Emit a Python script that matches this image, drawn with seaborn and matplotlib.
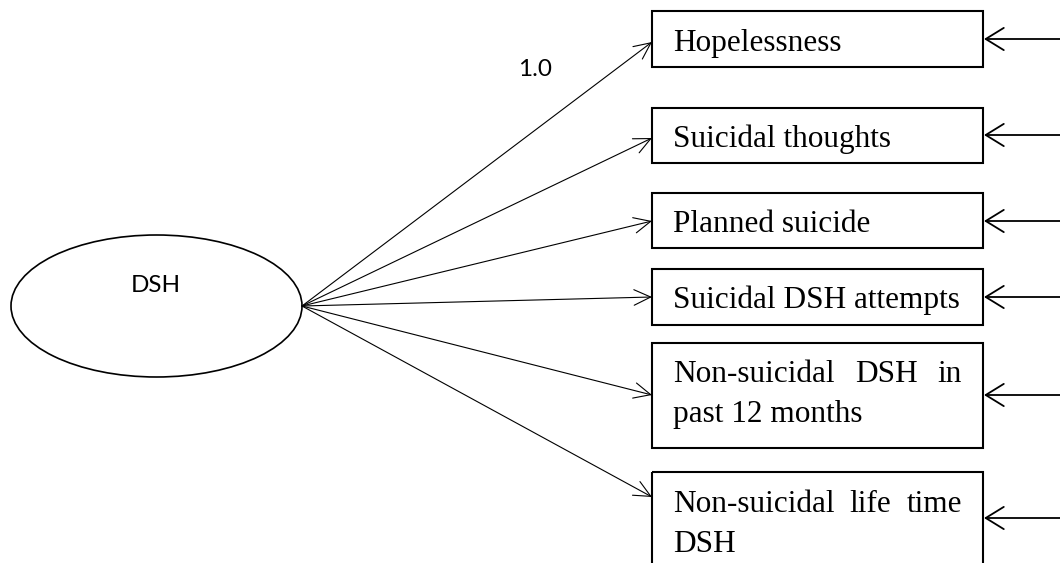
import matplotlib.pyplot as plt
import seaborn as sns
from matplotlib.patches import Ellipse, Rectangle

# path diagram content
latent = "DSH"
indicators = [
    ["Hopelessness"],
    ["Suicidal thoughts"],
    ["Planned suicide"],
    ["Suicidal DSH attempts"],
    ["Non-suicidal DSH in", "past 12 months"],
    ["Non-suicidal life time", "DSH"],
]
loadings = ["1.0", "", "", "", "", ""]

# layout in pixels (image is 1060 x 563, y grows downward)
box_top = [11, 108, 193, 269, 343, 472]
box_bottom = [67, 163, 248, 325, 448, 580]
arrow_in_y = [42, 138, 221, 297, 395, 497]
error_y = [39, 135, 221, 297, 395, 518]
first_baseline = [51, 147, 232, 308, 382, 512]
box_left, box_right = 652, 983
text_left, text_right = 673, 962
line_gap = 40

sns.set_theme(style="white")
plt.rcParams["text.color"] = "black"
fig = plt.figure(figsize=(10.6, 5.63), dpi=100)
ax = fig.add_axes([0, 0, 1, 1])
ax.set_xlim(0, 1060)
ax.set_ylim(563, 0)
ax.axis("off")

serif = ["Liberation Serif", "DejaVu Serif"]
sans = ["Lato", "DejaVu Sans"]

ax.add_patch(Ellipse((156.5, 306), 291, 142, fill=False, ec="black", lw=1.2))
ax.text(156, 286, latent, fontsize=17.5, family=sans, ha="center", va="center",
        color="black")

origin = (302, 306)
renderer = fig.canvas.get_renderer()


def width_of(t):
    bb = t.get_window_extent(renderer=renderer)
    return bb.width  # 1 data unit == 1 pixel


def put(x, y, s, ha):
    return ax.text(x, y, s, fontsize=22.5, family=serif, ha=ha,
                   va="baseline", color="black")


for i, lines in enumerate(indicators):
    ax.add_patch(Rectangle((box_left, box_top[i]), box_right - box_left,
                           box_bottom[i] - box_top[i], fill=False,
                           ec="black", lw=1.5))
    ax.annotate("", xy=(box_left, arrow_in_y[i]), xytext=origin,
                arrowprops=dict(arrowstyle="->,head_length=0.6,head_width=0.28",
                                mutation_scale=20, lw=0.8, color="black",
                                shrinkA=0, shrinkB=0))
    ax.annotate("", xy=(box_right + 1, error_y[i]), xytext=(1062, error_y[i]),
                arrowprops=dict(arrowstyle="->,head_length=0.65,head_width=0.4",
                                mutation_scale=20, lw=1.3, color="black",
                                shrinkA=0, shrinkB=0))
    for j, line in enumerate(lines):
        y = first_baseline[i] + j * line_gap
        words = line.split()
        justify = len(lines) > 1 and j < len(lines) - 1 and len(words) == 3
        if not justify:
            put(text_left, y, line, "left")
            continue
        t1 = put(text_left, y, words[0], "left")
        t3 = put(text_right, y, words[2], "right")
        mid = (text_left + width_of(t1) + text_right - width_of(t3)) / 2
        put(mid, y, words[1], "center")

ax.text(535, 69, loadings[0], fontsize=17.5, family=sans, ha="center",
        va="center", color="black")

fig.savefig("out.png", dpi=100)
